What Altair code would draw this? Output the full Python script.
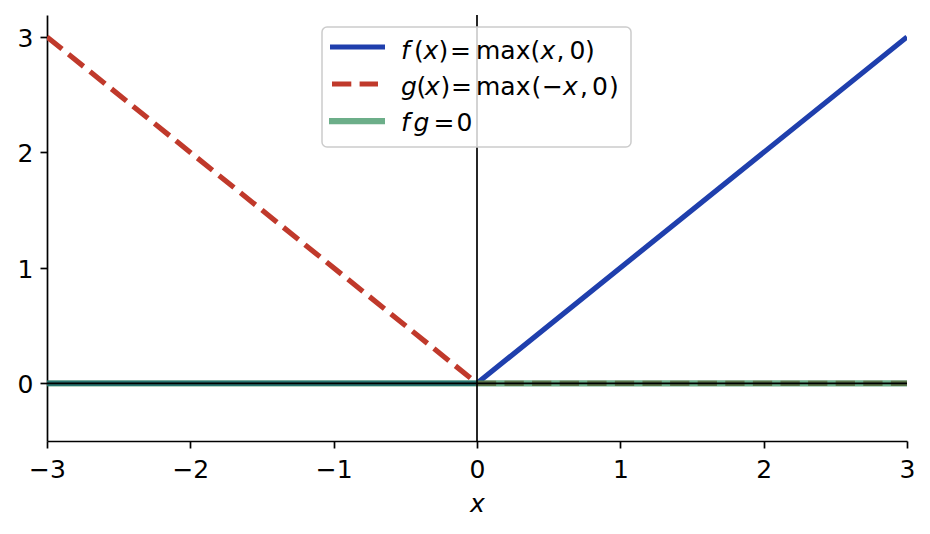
import altair as alt
import pandas as pd

# ---- data ----
x_pts = [-3, 0, 3]
f_vals = [0, 0, 3]
g_vals = [3, 0, 0]
fg_vals = [0, 0, 0]
x_ticks = [-3, -2, -1, 0, 1, 2, 3]
y_ticks = [0, 1, 2, 3]
x_domain = [-3, 3]
y_domain = [-0.5, 3.19]

df_f = pd.DataFrame({"x": x_pts, "y": f_vals})
df_g = pd.DataFrame({"x": x_pts, "y": g_vals})
df_fg = pd.DataFrame({"x": x_pts, "y": fg_vals})
df_h = pd.DataFrame({"y": [0]})
df_v = pd.DataFrame({"x": [0]})

BLUE = "#1f3fad"
RED = "#c0392b"
GREEN = "#2e8b57"
FONT = "DejaVu Sans"
FS = 25

xs = alt.Scale(domain=x_domain, nice=False, zero=False)
ys = alt.Scale(domain=y_domain, nice=False, zero=False)

xaxis = alt.Axis(
    values=x_ticks, format="d", grid=False,
    labelExpr="replace(datum.label, '-', '\u2212')",
    labelFont=FONT, labelFontSize=FS, labelColor="black", labelPadding=9,
    labelFlush=False, labelOverlap=False,
    tickColor="black", tickWidth=1.7, tickSize=7,
    domainColor="black", domainWidth=1.7,
    titleFont=FONT, titleFontSize=FS, titleFontStyle="italic", titleFontWeight="normal",
    titleColor="black", titleX=430, titleY=70.5, titleAlign="center", titleBaseline="alphabetic",
)
yaxis = alt.Axis(
    values=y_ticks, format="d", grid=False,
    labelFont=FONT, labelFontSize=FS, labelColor="black", labelPadding=7,
    labelFlush=False, labelOverlap=False, labelOffset=1.5,
    tickColor="black", tickWidth=1.7, tickSize=7,
    domainColor="black", domainWidth=1.7,
)

X = alt.X("x:Q", scale=xs, axis=xaxis, title="x")
Y = alt.Y("y:Q", scale=ys, axis=yaxis, title=None)

f_line = alt.Chart(df_f).mark_line(
    color=BLUE, strokeWidth=5.2, clip=True, strokeJoin="round"
).encode(x=X, y=Y)
g_line = alt.Chart(df_g).mark_line(
    color=RED, strokeWidth=5.2, strokeDash=[19.3, 8.3], clip=True
).encode(x=X, y=Y)
fg_line = alt.Chart(df_fg).mark_line(
    color=GREEN, strokeWidth=6.25, opacity=0.7, clip=True
).encode(x=X, y=Y)
hline = alt.Chart(df_h).mark_rule(color="black", strokeWidth=1.7).encode(y=Y)
vline = alt.Chart(df_v).mark_rule(color="black", strokeWidth=1.7).encode(x=X)

# ---- manual legend (pixel layout relative to plot origin) ----
OX, OY = 47, 15
one = alt.Data(values=[{"a": 1}])

box = alt.Chart(one).mark_rect(
    fill="white", fillOpacity=0.8, stroke="#cccccc", strokeWidth=1.5, cornerRadius=5
).encode(
    x=alt.value(322 - OX), x2=alt.value(631 - OX),
    y=alt.value(27 - OY), y2=alt.value(147 - OY),
)

def sample(x1, x2, y, color, width, dash=None, opacity=1.0):
    kw = dict(color=color, strokeWidth=width, opacity=opacity)
    if dash:
        kw["strokeDash"] = dash
    return alt.Chart(one).mark_rule(**kw).encode(
        x=alt.value(x1 - OX), x2=alt.value(x2 - OX), y=alt.value(y - OY)
    )

samples = [
    sample(330, 385, 47, BLUE, 5.2),
    sample(332, 378, 84, RED, 5.2, dash=[19.3, 8.3]),
    sample(329, 385, 121, GREEN, 6.25, opacity=0.7),
]

rows = [
    (59, [("f", True, 401), ("(", False, 414), ("x", True, 423.5), (")", False, 438.5),
          ("=", False, 450), ("max", False, 476), ("(", False, 530.5), ("x", True, 540.5),
          (",", False, 556.5), ("0", False, 569.5), (")", False, 585)]),
    (95, [("g", True, 401), ("(", False, 416.5), ("x", True, 425), (")", False, 440.5),
          ("=", False, 451), ("max", False, 476), ("(", False, 531.5), ("\u2212", False, 542),
          ("x", True, 563), (",", False, 580), ("0", False, 592), (")", False, 609)]),
    (131, [("f", True, 401), ("g", True, 413.5), ("=", False, 433.5), ("0", False, 456.5)]),
]

texts = []
for base, pieces in rows:
    for t, it, px in pieces:
        texts.append(
            alt.Chart(one).mark_text(
                text=t, align="left", baseline="alphabetic", font=FONT, fontSize=FS,
                fontStyle="italic" if it else "normal", color="black",
            ).encode(x=alt.value(px - OX), y=alt.value(base - OY))
        )

chart = alt.layer(
    f_line, g_line, fg_line, hline, vline, box, *samples, *texts
).properties(
    width=860, height=426,
    autosize=alt.AutoSizeParams(type="none"),
    padding={"left": 39, "top": 7, "right": 15, "bottom": 80},
).configure_view(stroke=None)

chart.save("out.html", embed_options={"renderer": "svg", "actions": False})
